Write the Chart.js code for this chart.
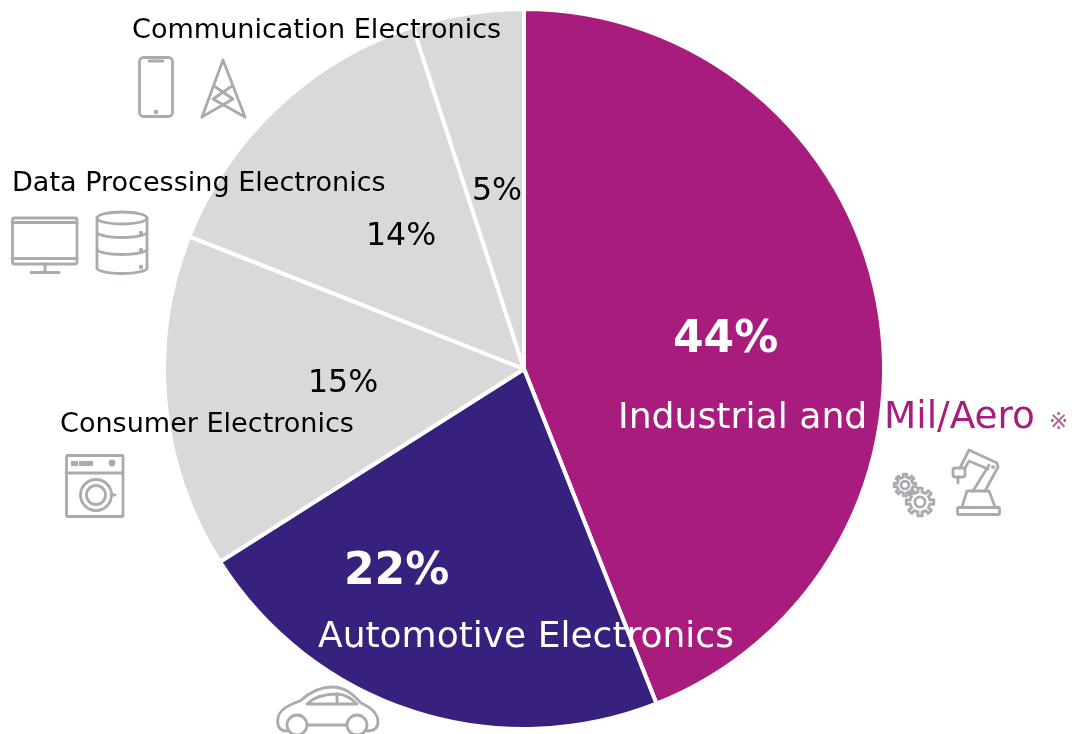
<!DOCTYPE html>
<html>
<head>
<meta charset="utf-8">
<style>
  html, body { margin: 0; padding: 0; background: #fff; overflow: hidden; }
  #wrap { position: relative; width: 1074px; height: 734px; }
  canvas { display: block; }
</style>
<script src="https://cdn.jsdelivr.net/npm/chart.js@4/dist/chart.umd.min.js"></script>
</head>
<body>
<div id="wrap"><canvas id="market" width="1074" height="734"></canvas></div>
<script>
const categories = [
  "Industrial and Mil/Aero",
  "Automotive Electronics",
  "Consumer Electronics",
  "Data Processing Electronics",
  "Communication Electronics"
];
const shares = [44, 22, 15, 14, 5];
const sliceColors = ["#A81C7D", "#38207F", "#D9D9D9", "#D9D9D9", "#D9D9D9"];

const FONT = '"DejaVu Sans", Verdana, sans-serif';
const ICON = "#A8ABAF";

// Annotation text: [string, x (left), baseline y, px size, weight, colour]
const captions = [
  [categories[4], 132, 38, 27.05, "400", "#000"],
  [categories[3], 12, 191, 27.05, "400", "#000"],
  [categories[2], 60, 432, 27.05, "400", "#000"],
  ["Industrial and", 618, 428, 36.2, "400", "#fff"],
  ["Mil/Aero", 884, 428, 37.4, "400", "#A81C7D"],
  ["※", 1049, 429, 23, "400", "#BC5AA0"],
  [categories[1], 318, 647, 36, "400", "#fff"],
  [shares[0] + "%", 673, 352, 44, "700", "#fff"],
  [shares[1] + "%", 344, 584, 44, "700", "#fff"],
  [shares[2] + "%", 308, 392, 31.6, "400", "#000"],
  [shares[3] + "%", 366, 245, 31.6, "400", "#000"],
  [shares[4] + "%", 472, 200, 31.6, "400", "#000"]
];

// Outline pictograms, stroked in a shared grey
function strokeRound(ctx, x, y, w, h, r) {
  ctx.beginPath();
  ctx.roundRect(x, y, w, h, r);
  ctx.stroke();
}
function seg(ctx, pts) {
  ctx.beginPath();
  pts.forEach((p, i) => i ? ctx.lineTo(p[0], p[1]) : ctx.moveTo(p[0], p[1]));
  ctx.stroke();
}
function dot(ctx, x, y, r) {
  ctx.beginPath();
  ctx.arc(x, y, r, 0, Math.PI * 2);
  ctx.fill();
}
function ring(ctx, x, y, r) {
  ctx.beginPath();
  ctx.arc(x, y, r, 0, Math.PI * 2);
  ctx.stroke();
}
function phone(ctx) {
  strokeRound(ctx, 139.5, 57.5, 33, 59, 4);
  ctx.save();
  ctx.lineWidth = 3;
  seg(ctx, [[149, 61], [163, 61]]);
  ctx.restore();
  dot(ctx, 156, 112, 2.2);
}
function tower(ctx) {
  seg(ctx, [[202, 117], [223, 60], [245, 117]]);
  seg(ctx, [[202, 117], [233, 99], [214, 86]]);
  seg(ctx, [[245, 117], [213, 99], [232, 86]]);
}
function monitor(ctx) {
  strokeRound(ctx, 12.5, 218, 64.5, 46, 2);
  seg(ctx, [[12, 222.5], [77, 222.5]]);
  seg(ctx, [[12, 258.5], [77, 258.5]]);
  seg(ctx, [[45, 264], [45, 272]]);
  seg(ctx, [[31, 272.5], [59, 272.5]]);
}
function database(ctx) {
  const l = 97, r = 147, cx = 122;
  ctx.beginPath();
  ctx.ellipse(cx, 218, 25, 6, 0, 0, Math.PI * 2);
  ctx.stroke();
  [232, 249, 268].forEach(y => {
    ctx.beginPath();
    ctx.ellipse(cx, y, 25, 5.5, 0, 0, Math.PI);
    ctx.stroke();
  });
  seg(ctx, [[l, 218], [l, 268]]);
  seg(ctx, [[r, 218], [r, 268]]);
  [233, 250, 267].forEach(y => dot(ctx, 141, y, 2.2));
}
function washer(ctx) {
  strokeRound(ctx, 66.5, 455.5, 56.5, 61, 1);
  seg(ctx, [[66, 473], [123, 473]]);
  ctx.fillRect(71, 461, 7, 5);
  ctx.fillRect(79, 461, 14, 5);
  dot(ctx, 112, 463, 3.4);
  ring(ctx, 96, 495, 15.5);
  ring(ctx, 96, 495, 9.5);
  seg(ctx, [[111, 495], [115, 495]]);
}
function gear(ctx, cx, cy, R, teeth) {
  const inner = R * 0.72;
  ctx.beginPath();
  for (let i = 0; i < teeth; i++) {
    const a = i * 2 * Math.PI / teeth, s = Math.PI / teeth;
    const at = (rad, ang) => [cx + rad * Math.cos(ang), cy + rad * Math.sin(ang)];
    [at(inner, a - s), at(inner, a - s * 0.5), at(R, a - s * 0.42), at(R, a + s * 0.42), at(inner, a + s * 0.5), at(inner, a + s)]
      .forEach((p, j) => (i === 0 && j === 0) ? ctx.moveTo(p[0], p[1]) : ctx.lineTo(p[0], p[1]));
  }
  ctx.closePath();
  ctx.stroke();
  ring(ctx, cx, cy, R * 0.36);
}
function robot(ctx) {
  strokeRound(ctx, 957.5, 507.5, 42, 7, 1);
  seg(ctx, [[962, 507], [967, 491], [989, 491], [995, 507]]);
  seg(ctx, [[973, 491], [989, 465]]);
  seg(ctx, [[985, 491], [998, 467]]);
  seg(ctx, [[960, 468], [969, 450], [997, 463], [998, 467]]);
  seg(ctx, [[965, 468], [969, 461], [988, 469]]);
  strokeRound(ctx, 953, 468, 12, 9, 2);
  seg(ctx, [[958, 477], [958, 483]]);
  dot(ctx, 993, 467, 2);
}
function car(ctx) {
  ctx.beginPath();
  ctx.moveTo(287, 731);
  ctx.bezierCurveTo(278, 731, 277, 724, 278, 718);
  ctx.bezierCurveTo(279, 710, 288, 705, 300, 701);
  ctx.bezierCurveTo(310, 692, 320, 687, 332, 687);
  ctx.bezierCurveTo(347, 687, 355, 697, 361, 703);
  ctx.bezierCurveTo(372, 708, 378, 715, 378, 722);
  ctx.bezierCurveTo(378, 729, 373, 731, 367, 731);
  ctx.stroke();
  ctx.beginPath();
  ctx.moveTo(307, 704);
  ctx.bezierCurveTo(315, 696, 325, 694, 337, 694);
  ctx.bezierCurveTo(346, 694, 352, 699, 357, 704);
  ctx.closePath();
  ctx.stroke();
  seg(ctx, [[337, 694], [337, 704]]);
  seg(ctx, [[307, 725], [346, 725]]);
  ring(ctx, 297, 725, 10);
  ring(ctx, 357, 725, 10);
}

const annotations = {
  id: "annotations",
  afterDraw(chart) {
    const ctx = chart.ctx;
    ctx.save();
    ctx.strokeStyle = ICON;
    ctx.fillStyle = ICON;
    ctx.lineWidth = 2.8;
    ctx.lineJoin = "round";
    ctx.lineCap = "round";
    phone(ctx); tower(ctx); monitor(ctx); database(ctx); washer(ctx); robot(ctx); car(ctx);
    gear(ctx, 905, 485, 11, 8);
    gear(ctx, 920, 502, 14, 8);
    ctx.textAlign = "left";
    ctx.textBaseline = "alphabetic";
    captions.forEach(([text, x, y, size, weight, color]) => {
      ctx.font = `${weight} ${size}px ${FONT}`;
      ctx.fillStyle = color;
      ctx.fillText(text, x, y);
    });
    ctx.restore();
  }
};

new Chart(document.getElementById("market"), {
  type: "pie",
  data: {
    labels: categories,
    datasets: [{
      data: shares,
      backgroundColor: sliceColors,
      borderColor: "#fff",
      borderWidth: 4,
      hoverOffset: 0
    }]
  },
  options: {
    responsive: false,
    animation: false,
    layout: { padding: { top: 7, bottom: 3, left: 0, right: 26 } },
    plugins: { legend: { display: false }, tooltip: { enabled: false } }
  },
  plugins: [annotations]
});
</script>
</body>
</html>
